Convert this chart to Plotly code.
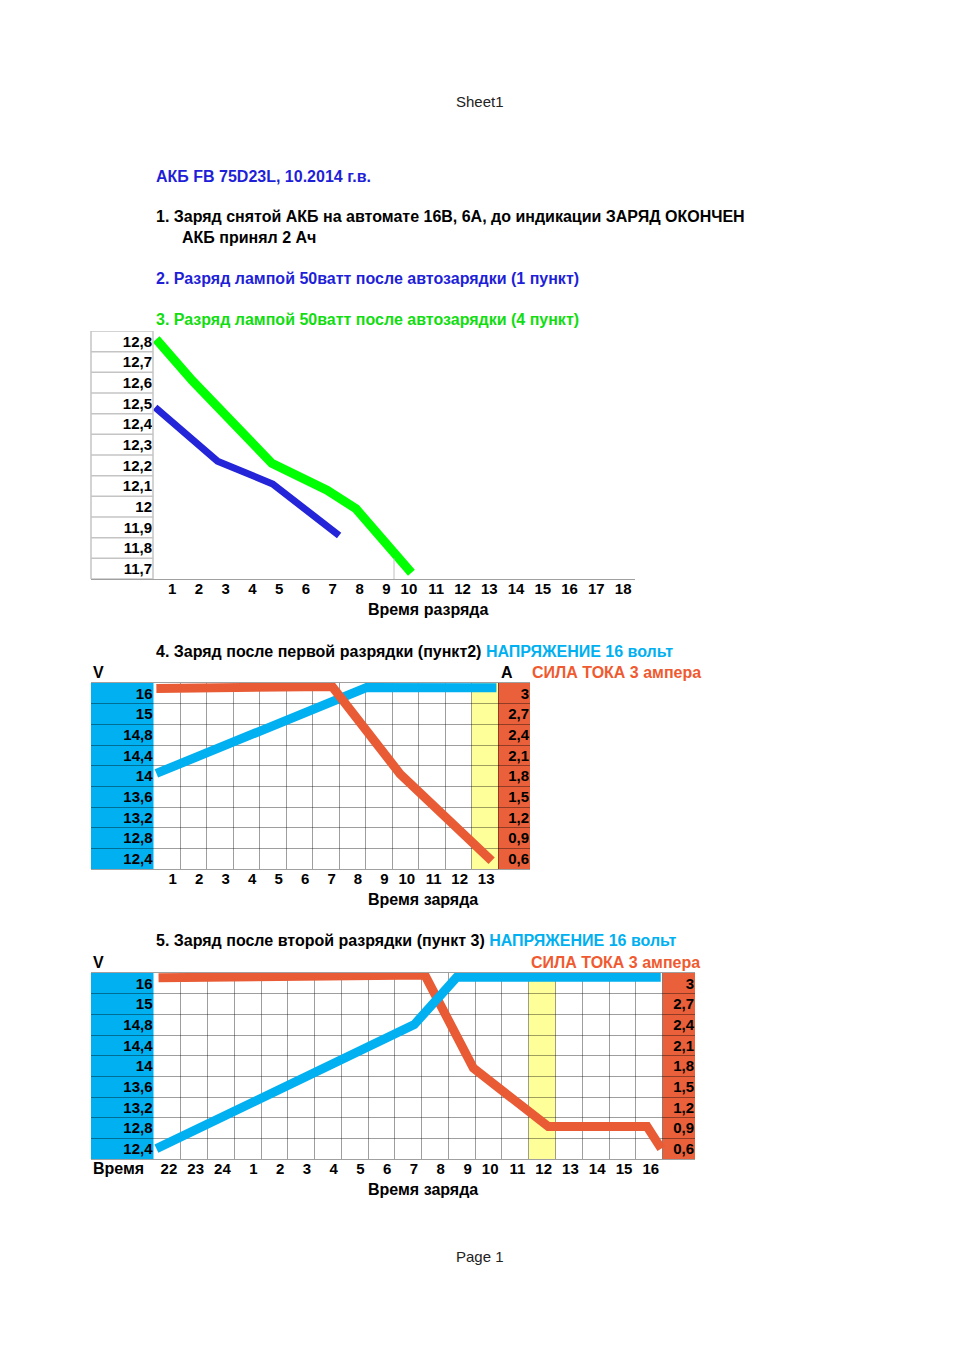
import numpy as np
import plotly.graph_objects as go

W, H = 960, 1359
FONT = "Liberation Sans, Arial, sans-serif"

# ---------------- data ----------------
# Chart 1: discharge with a 50 W lamp (voltage, V) vs time cell
c1_x_labels = [str(i) for i in range(1, 19)]
c1_y_values = [12.8, 12.7, 12.6, 12.5, 12.4, 12.3, 12.2, 12.1, 12.0, 11.9, 11.8, 11.7]
c1_y_labels = ["12,8", "12,7", "12,6", "12,5", "12,4", "12,3", "12,2", "12,1", "12", "11,9", "11,8", "11,7"]
c1_blue_t = [0.08, 2.41, 4.47, 6.95]
c1_blue_v = [12.48, 12.22, 12.11, 11.86]
c1_green_t = [0.12, 1.47, 4.44, 6.50, 7.58, 9.65]
c1_green_v = [12.81, 12.61, 12.21, 12.08, 11.99, 11.68]

# Shared scales of charts 2 and 3 (one spreadsheet row per level)
volt_levels = [12.4, 12.8, 13.2, 13.6, 14.0, 14.4, 14.8, 15.0, 16.0]
volt_labels = ["12,4", "12,8", "13,2", "13,6", "14", "14,4", "14,8", "15", "16"]
amp_levels = [0.6, 0.9, 1.2, 1.5, 1.8, 2.1, 2.4, 2.7, 3.0]
amp_labels = ["0,6", "0,9", "1,2", "1,5", "1,8", "2,1", "2,4", "2,7", "3"]

# Chart 2: charge after first discharge
c2_x_labels = [str(i) for i in range(1, 14)]
c2_volt_t = [0.09, 8.03, 12.94]
c2_volt_v = [14.05, 16.28, 16.27]
c2_amp_t = [0.09, 6.73, 9.30, 12.76]
c2_amp_a = [3.07, 3.10, 1.83, 0.57]

# Chart 3: charge after second discharge
c3_x_labels = ["22", "23", "24"] + [str(i) for i in range(1, 17)]
c3_volt_t = [0.09, 9.72, 11.31, 18.93]
c3_volt_v = [12.4, 14.8, 16.3, 16.3]
c3_amp_t = [0.17, 10.12, 11.93, 14.73, 18.42, 18.95]
c3_amp_a = [3.08, 3.12, 1.77, 0.92, 0.92, 0.60]


# ---------------- helpers ----------------
def PX(x):
    return x / W


def PY(y):
    return 1 - y / H


def volt_to_row(vals):
    rows_idx = np.arange(len(volt_levels), dtype=float)
    out = []
    for v in vals:
        if v > volt_levels[-1]:
            slope = (rows_idx[-1] - rows_idx[-2]) / (volt_levels[-1] - volt_levels[-2])
            out.append(rows_idx[-1] + (v - volt_levels[-1]) * slope)
        else:
            out.append(float(np.interp(v, volt_levels, rows_idx)))
    return out


BOLD = dict(family=FONT, size=15, color="black", weight="bold")
GRID = "rgba(0,0,0,0.38)"
SKY = "#00B0F0"
ORANGE = "#E9603A"
ORANGE_LINE = "#E85B35"
YELLOW = "#FFFF99"

fig = go.Figure()

# ---------------- traces ----------------
fig.add_trace(go.Scatter(x=c1_blue_t, y=c1_blue_v, mode="lines", xaxis="x", yaxis="y",
                         line=dict(color="#2424D8", width=7)))
fig.add_trace(go.Scatter(x=c1_green_t, y=c1_green_v, mode="lines", xaxis="x", yaxis="y",
                         line=dict(color="#00FF00", width=9)))

fig.add_trace(go.Scatter(x=c2_volt_t, y=volt_to_row(c2_volt_v), mode="lines", xaxis="x2", yaxis="y2",
                         line=dict(color=SKY, width=9)))
fig.add_trace(go.Scatter(x=c2_amp_t, y=c2_amp_a, mode="lines", xaxis="x2", yaxis="y3",
                         line=dict(color=ORANGE_LINE, width=9)))

fig.add_trace(go.Scatter(x=c3_amp_t, y=c3_amp_a, mode="lines", xaxis="x3", yaxis="y4",
                         line=dict(color=ORANGE_LINE, width=9)))
fig.add_trace(go.Scatter(x=c3_volt_t, y=volt_to_row(c3_volt_v), mode="lines", xaxis="x3", yaxis="y5",
                         line=dict(color=SKY, width=9)))

# ---------------- axes ----------------
def xax(domain_px, cell_px, first_px, n_last_px, labels, anchor, grid, mirror):
    left, right = domain_px
    rng = [(left - first_px) / cell_px, len(labels) + (right - n_last_px) / cell_px]
    return dict(domain=[PX(left), PX(right)], range=rng, anchor=anchor,
                tickmode="array", tickvals=list(range(1, len(labels) + 1)), ticktext=labels,
                ticks="", showgrid=grid, gridcolor=GRID, gridwidth=1, zeroline=False,
                showline=True, linecolor="#a0a0a0", linewidth=1, mirror=mirror,
                tickfont=BOLD, ticklabelposition="outside left", ticklabelshift=-3,
                ticklabelstandoff=-4, fixedrange=True)


# chart 1 : cells of 26.78 px starting at x=153
c1_cell = (635 - 153) / 18
fig.update_layout(
    xaxis=xax((91, 635), c1_cell, 153, 635, c1_x_labels, "y", False, False),
    yaxis=dict(domain=[PY(579), PY(331)], range=[11.65, 12.85], anchor="free", position=PX(153),
               tickmode="array", tickvals=c1_y_values, ticktext=c1_y_labels, ticks="",
               showgrid=False, zeroline=False, showline=False, tickfont=BOLD,
               ticklabelstandoff=1, fixedrange=True),
)

# chart 2 : 13 cells of 26.46 px from x=154, wide current column to 530
c2_cell = (498 - 154) / 13
row_edges = [k - 0.5 for k in range(len(volt_levels) + 1)]
fig.update_layout(
    xaxis2=xax((91, 530), c2_cell, 154, 498, c2_x_labels, "y2", True, True),
    yaxis2=dict(domain=[PY(869), PY(683)], range=[-0.5, len(volt_levels) - 0.5], anchor="free",
                position=PX(153.5), tickmode="array", tickvals=list(range(len(volt_levels))),
                ticktext=volt_labels, ticks="", showgrid=False, zeroline=False, tickfont=BOLD,
                ticklabelstandoff=1, fixedrange=True,
                minor=dict(tickmode="array", tickvals=row_edges, showgrid=True,
                           gridcolor=GRID, gridwidth=1, ticks="")),
    yaxis3=dict(overlaying="y2", anchor="free", position=PX(530), side="left",
                range=[amp_levels[0] - 0.15, amp_levels[-1] + 0.15],
                tickmode="array", tickvals=amp_levels, ticktext=amp_labels, ticks="",
                showgrid=False, zeroline=False, tickfont=BOLD, ticklabelstandoff=1,
                fixedrange=True),
)

# chart 3 : 19 cells from x=154 to 662.6, current column to 695
c3_cell = (662.6 - 154) / 19
amp_edges = [amp_levels[0] - 0.15 + 0.3 * k for k in range(len(amp_levels) + 1)]
fig.update_layout(
    xaxis3=xax((91, 695), c3_cell, 154, 662.6, c3_x_labels, "y4", True, True),
    yaxis4=dict(domain=[PY(1159), PY(973)], range=[amp_levels[0] - 0.15, amp_levels[-1] + 0.15],
                anchor="free", position=PX(695), side="left",
                tickmode="array", tickvals=amp_levels, ticktext=amp_labels, ticks="",
                showgrid=False, zeroline=False, tickfont=BOLD, ticklabelstandoff=1,
                fixedrange=True,
                minor=dict(tickmode="array", tickvals=amp_edges, showgrid=True,
                           gridcolor=GRID, gridwidth=1, ticks="")),
    yaxis5=dict(overlaying="y4", anchor="free", position=PX(153.5), side="left",
                range=[-0.5, len(volt_levels) - 0.5],
                tickmode="array", tickvals=list(range(len(volt_levels))), ticktext=volt_labels,
                ticks="", showgrid=False, zeroline=False, tickfont=BOLD, ticklabelstandoff=1,
                fixedrange=True),
)

# ---------------- decorative shapes ----------------
shapes = []
# chart 1 label cells
for k in range(len(c1_y_values) + 1):
    yv = c1_y_values[0] + 0.05 - 0.1 * k
    shapes.append(dict(type="line", xref="paper", yref="y", x0=PX(91), x1=PX(153), y0=yv, y1=yv,
                       line=dict(color="#c4c4c4", width=1.5)))
for xv in (91, 153):
    shapes.append(dict(type="line", xref="paper", yref="paper", x0=PX(xv), x1=PX(xv),
                       y0=PY(579), y1=PY(331), line=dict(color="#c4c4c4", width=1.5)))
shapes.append(dict(type="line", xref="x", yref="y", x0=9, x1=9, y0=11.65, y1=11.75,
                   line=dict(color="#c0c0c0", width=1)))

# chart 2 columns
shapes += [
    dict(type="rect", xref="paper", yref="paper", x0=PX(91), x1=PX(153.5), y0=PY(869), y1=PY(683),
         fillcolor=SKY, line=dict(width=0), layer="below"),
    dict(type="rect", xref="x2", yref="paper", x0=12, x1=13, y0=PY(869), y1=PY(683),
         fillcolor=YELLOW, line=dict(width=0), layer="below"),
    dict(type="rect", xref="paper", yref="paper", x0=PX(498), x1=PX(530), y0=PY(869), y1=PY(683),
         fillcolor=ORANGE, line=dict(width=0), layer="below"),
]
# chart 3 columns
shapes += [
    dict(type="rect", xref="paper", yref="paper", x0=PX(91), x1=PX(153.5), y0=PY(1159), y1=PY(973),
         fillcolor=SKY, line=dict(width=0), layer="below"),
    dict(type="rect", xref="x3", yref="paper", x0=14, x1=15, y0=PY(1159), y1=PY(973),
         fillcolor=YELLOW, line=dict(width=0), layer="below"),
    dict(type="rect", xref="paper", yref="paper", x0=PX(662.6), x1=PX(695), y0=PY(1159), y1=PY(973),
         fillcolor=ORANGE, line=dict(width=0), layer="below"),
]

# ---------------- text ----------------
def note(text, x, y, color="black", size=16, bold=True, anchor="left"):
    shift = {"left": -2, "right": 2, "center": 0}[anchor]
    return dict(text=text, x=PX(x + shift), y=PY(y), xref="paper", yref="paper", showarrow=False,
                xanchor=anchor, yanchor="middle",
                font=dict(family=FONT, size=size, color=color, weight="bold" if bold else "normal"))


BLUE_TXT = "#1F1FD8"
GREEN_TXT = "#11DD11"
RED_TXT = "#F05A30"
annotations = [
    note("Sheet1", 480, 102, color="#222222", bold=False, anchor="center", size=15),
    note("АКБ FB 75D23L, 10.2014 г.в.", 156, 176, color=BLUE_TXT),
    note("1. Заряд снятой АКБ на автомате 16В, 6А, до индикации ЗАРЯД ОКОНЧЕН", 156, 217),
    note("АКБ принял 2 Ач", 182, 238),
    note("2. Разряд лампой 50ватт после автозарядки (1 пункт)", 156, 279, color=BLUE_TXT),
    note("3. Разряд лампой 50ватт после автозарядки (4 пункт)", 156, 320, color=GREEN_TXT),
    note("Время разряда", 428, 609, anchor="center"),
    note("4. Заряд после первой разрядки (пункт2) "
         f"<span style='color:{SKY}'>НАПРЯЖЕНИЕ 16 вольт</span>", 156, 651),
    note("V", 93, 672),
    note("A", 501, 672),
    note("СИЛА ТОКА 3 ампера", 532, 672, color=RED_TXT),
    note("Время заряда", 423, 899, anchor="center"),
    note("5. Заряд после второй разрядки (пункт 3) "
         f"<span style='color:{SKY}'>НАПРЯЖЕНИЕ 16 вольт</span>", 156, 941),
    note("V", 93, 962),
    note("СИЛА ТОКА 3 ампера", 700, 962, color=RED_TXT, anchor="right"),
    note("Время", 93, 1168),
    note("Время заряда", 423, 1189, anchor="center"),
    note("Page 1", 480, 1256, color="#222222", bold=False, anchor="center", size=15),
]

fig.update_layout(
    width=W, height=H, margin=dict(l=0, r=0, t=0, b=0),
    paper_bgcolor="white", plot_bgcolor="rgba(0,0,0,0)",
    showlegend=False, shapes=shapes, annotations=annotations,
    font=dict(family=FONT),
)

fig.write_html("out.html")
